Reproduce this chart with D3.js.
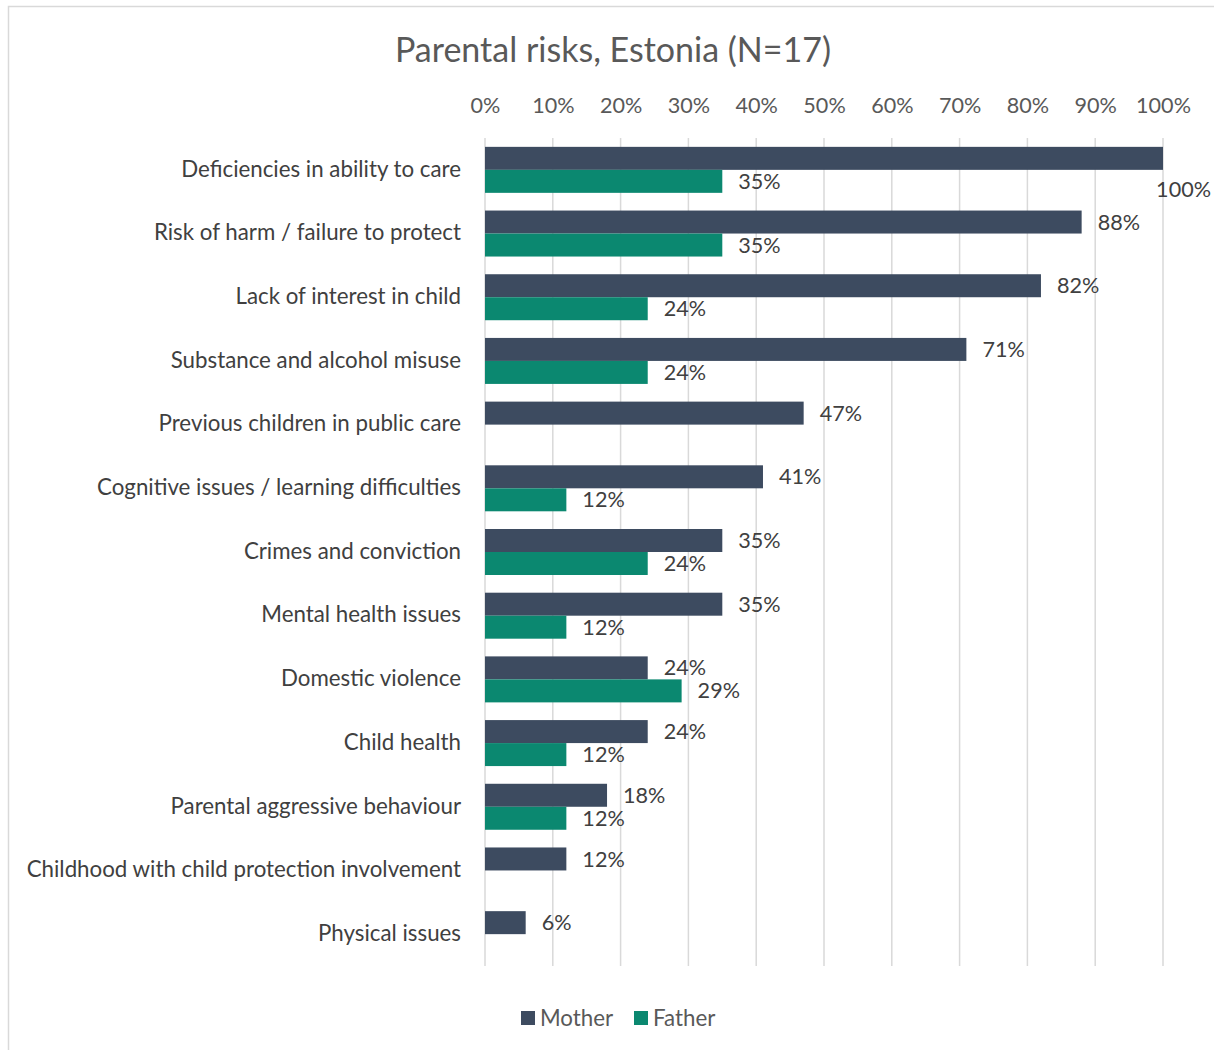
<!DOCTYPE html>
<html>
<head>
<meta charset="utf-8">
<script src="https://cdn.jsdelivr.net/npm/d3@7"></script>
<style>
  html, body { margin: 0; padding: 0; background: #fff; }
  svg { display: block; font-family: Lato, "Open Sans", sans-serif; }
</style>
</head>
<body>
<svg id="chart" width="1214" height="1050"></svg>
<script>
// Share of cases (%) in which each parental risk was recorded, Estonia, N=17
const categories = [
  "Deficiencies in ability to care",
  "Risk of harm / failure to protect",
  "Lack of interest in child",
  "Substance and alcohol misuse",
  "Previous children in public care",
  "Cognitive issues / learning difficulties",
  "Crimes and conviction",
  "Mental health issues",
  "Domestic violence",
  "Child health",
  "Parental aggressive behaviour",
  "Childhood with child protection involvement",
  "Physical issues"
];
const motherValues = [100, 88, 82, 71, 47, 41, 35, 35, 24, 24, 18, 12, 6];
const fatherValues = [35, 35, 24, 24, null, 12, 24, 12, 29, 12, 12, null, null];
const seriesNames = ["Mother", "Father"];
const tickValues = [0, 10, 20, 30, 40, 50, 60, 70, 80, 90, 100];

const colors = { Mother: "#3d4b60", Father: "#0b8870" };

const svg = d3.select("#chart");
const W = 1214, H = 1050;

// chart frame
svg.append("rect")
  .attr("x", 8.5).attr("y", 6.5)
  .attr("width", W + 10).attr("height", H + 10)
  .attr("fill", "#fff").attr("stroke", "#d9d9d9").attr("stroke-width", 1.5);

// title
svg.append("text")
  .attr("x", 613).attr("y", 62)
  .attr("text-anchor", "middle")
  .attr("font-size", 34)
  .attr("fill", "#595959")
  .text("Parental risks, Estonia (N=17)");

const plot = { left: 485, right: 1163, top: 138, bottom: 966 };

const x = d3.scaleLinear().domain([0, 100]).range([plot.left, plot.right]);
const y = d3.scaleBand().domain(categories).range([plot.top, plot.bottom]).paddingInner(0).paddingOuter(0);
const step = y.bandwidth();
const sub = d3.scaleBand().domain(seriesNames).range([0, step]).paddingInner(0).paddingOuter(0.385);

// vertical gridlines
svg.append("g")
  .selectAll("line")
  .data(tickValues)
  .join("line")
  .attr("x1", d => x(d)).attr("x2", d => x(d))
  .attr("y1", plot.top).attr("y2", plot.bottom)
  .attr("stroke", "#d9d9d9").attr("stroke-width", 1.5);

// top axis labels
const axis = d3.axisTop(x).tickValues(tickValues).tickFormat(d => d + "%").tickSize(0).tickPadding(0);
const axisG = svg.append("g").attr("transform", `translate(0, 113)`).call(axis);
axisG.select(".domain").remove();
axisG.selectAll("text")
  .attr("font-family", "Lato, 'Open Sans', sans-serif")
  .attr("font-size", 21.6)
  .attr("fill", "#595959")
  .attr("dy", 0);

// category labels
svg.append("g")
  .selectAll("text")
  .data(categories)
  .join("text")
  .attr("x", 461)
  .attr("y", d => y(d) + step / 2 - 1)
  .attr("dy", "0.35em")
  .attr("text-anchor", "end")
  .attr("font-size", 22.3)
  .attr("fill", "#404040")
  .text(d => d);

// bars
const rows = [];
categories.forEach((c, i) => {
  rows.push({ cat: c, series: "Mother", value: motherValues[i] });
  if (fatherValues[i] != null) rows.push({ cat: c, series: "Father", value: fatherValues[i] });
});

const barH = sub.bandwidth();
svg.append("g")
  .selectAll("rect")
  .data(rows)
  .join("rect")
  .attr("x", x(0))
  .attr("y", d => y(d.cat) + sub(d.series))
  .attr("width", d => x(d.value) - x(0))
  .attr("height", barH)
  .attr("fill", d => colors[d.series]);

// value labels
const labelLimit = 1211;
const labels = svg.append("g")
  .selectAll("text")
  .data(rows)
  .join("text")
  .attr("x", d => x(d.value) + 16)
  .attr("y", d => y(d.cat) + sub(d.series) + barH / 2)
  .attr("dy", "0.35em")
  .attr("font-size", 21.6)
  .attr("fill", "#404040")
  .text(d => d.value + "%");

// a label that runs past the frame is pulled back inside and dropped below its bar
labels.each(function(d) {
  const t = d3.select(this);
  const w = this.getComputedTextLength();
  const x0 = +t.attr("x");
  if (x0 + w > labelLimit) {
    t.attr("x", labelLimit - w).attr("y", +t.attr("y") + barH + 8);
  }
});

// legend
const legend = svg.append("g").attr("transform", "translate(521, 1011)");
const legendOffsets = { Mother: 0, Father: 113 };
seriesNames.forEach(s => {
  const g = legend.append("g").attr("transform", `translate(${legendOffsets[s]}, 0)`);
  g.append("rect").attr("width", 14).attr("height", 14).attr("fill", colors[s]);
  g.append("text").attr("x", 19).attr("y", 7).attr("dy", "0.35em")
    .attr("font-size", 22.3).attr("fill", "#595959").text(s);
});
</script>
</body>
</html>
